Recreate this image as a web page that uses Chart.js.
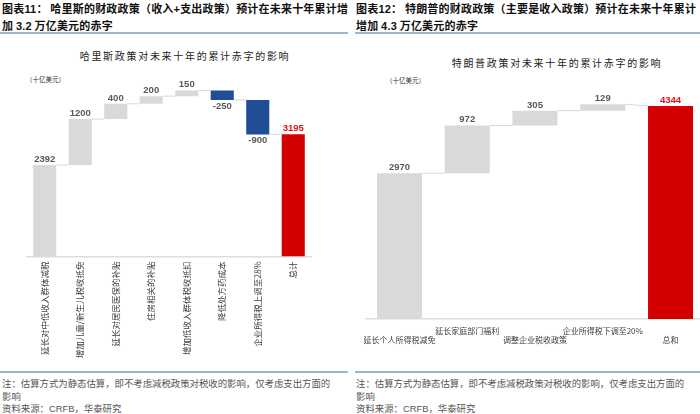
<!DOCTYPE html>
<html><head><meta charset="utf-8">
<script src="https://cdn.jsdelivr.net/npm/chart.js@4.4.1/dist/chart.umd.min.js"></script>
<style>
html,body{margin:0;padding:0;width:700px;height:414px;overflow:hidden;background:#fff;}
body{position:relative;font-family:"Noto Sans CJK SC",sans-serif;}
.hdr{position:absolute;top:1px;font-size:11px;font-weight:bold;line-height:15.5px;color:#111;white-space:nowrap;letter-spacing:0.2px;}
.num{font-family:"Liberation Sans",Arial,sans-serif;font-weight:bold;}
.rule{position:absolute;height:1.5px;background:#9fb4d3;}
.ctitle{position:absolute;top:50px;font-size:10px;line-height:12px;letter-spacing:1.7px;color:#222;white-space:nowrap;transform:translateX(-50%);}
.unit{position:absolute;font-size:6.5px;line-height:8px;color:#333;white-space:nowrap;}
.note{position:absolute;top:377px;font-size:9.4px;line-height:12.5px;color:#555;white-space:nowrap;}
.note .num{font-weight:normal;}
canvas{position:absolute;top:60px;}
</style></head>
<body>
<div class="hdr" style="left:2px;">图表<span class="num">11</span>：&nbsp;哈里斯的财政政策（收入<span class="num">+</span>支出政策）预计在未来十年累计增<br>加 <span class="num">3.2</span> 万亿美元的赤字</div>
<div class="hdr" style="left:356px;">图表<span class="num">12</span>：&nbsp;特朗普的财政政策（主要是收入政策）预计在未来十年累计<br>增加 <span class="num">4.3</span> 万亿美元的赤字</div>
<div class="rule" style="left:0;top:32px;width:348px;"></div>
<div class="rule" style="left:355px;top:32px;width:345px;"></div>

<div class="ctitle" style="left:185px;top:50px;">哈里斯政策对未来十年的累计赤字的影响</div>
<div class="ctitle" style="left:557px;top:56.5px;">特朗普政策对未来十年的累计赤字的影响</div>
<div class="unit" style="left:26px;top:75px;">（十亿美元）</div>
<div class="unit" style="left:386px;top:76px;">（十亿美元）</div>

<canvas id="harris" width="350" height="312" style="left:0;width:350px;height:312px;"></canvas>
<canvas id="trump" width="355" height="312" style="left:355px;width:355px;height:312px;"></canvas>

<div class="rule" style="left:0;top:371px;width:348px;"></div>
<div class="rule" style="left:355px;top:371px;width:345px;"></div>
<div class="note" style="left:2px;">注：估算方式为静态估算，即不考虑减税政策对税收的影响，仅考虑支出方面的<br>影响<br>资料来源：<span class="num">CRFB</span>，华泰研究</div>
<div class="note" style="left:356px;">注：估算方式为静态估算，即不考虑减税政策对税收的影响，仅考虑支出方面的<br>影响<br>资料来源：<span class="num">CRFB</span>，华泰研究</div>

<script>
// ---- data ----
const harrisCategories = ['延长对中低收入群体减税','增加儿童/新生儿税收抵免','延长对居民医保的补贴','住房相关的补贴','增加低收入群体税收抵扣','降低处方药成本','企业所得税上调至28%','总计'];
const harrisValues = [2392, 1200, 400, 200, 150, -250, -900];
const harrisTotal = 3195;

const trumpCategories = ['延长个人所得税减免','延长家庭部门福利','调整企业税收政策','企业所得税下调至20%','总和'];
const trumpValues = [2970, 972, 305, 129];
const trumpTotal = 4344;

const yMin = 0;
const yMax = 5000;

// ---- styles ----
const COLORS = {up:'#D9D9D9', down:'#1F4E96', total:'#D40000'};
const LABEL_COLORS = {up:'#595959', down:'#595959', total:'#E8101A'};

function buildWaterfall(values, total){
  const bars = [], starts = [], kinds = [], labels = [];
  let cum = 0;
  values.forEach(v => {
    bars.push([cum, cum + v]);
    starts.push(cum);
    kinds.push(v >= 0 ? 'up' : 'down');
    labels.push(String(v));
    cum += v;
  });
  bars.push([0, total]);
  starts.push(total);
  kinds.push('total');
  labels.push(String(total));
  return {bars, starts, kinds, labels};
}

function makeWaterfallPlugin(wf, fontSize){
  return {
    id: 'waterfall',
    beforeDatasetsDraw(chart){
      const ctx = chart.ctx, meta = chart.getDatasetMeta(0), ys = chart.scales.y;
      ctx.save();
      ctx.strokeStyle = '#D9D9D9';
      ctx.lineWidth = 1;
      for (let i = 0; i < meta.data.length - 1; i++){
        const a = meta.data[i], b = meta.data[i + 1];
        const x1 = a.x + a.width / 2, x2 = b.x - b.width / 2;
        const y1 = ys.getPixelForValue(wf.bars[i][1]);
        const y2 = ys.getPixelForValue(wf.starts[i + 1]);
        ctx.beginPath();
        ctx.moveTo(x1, y1);
        ctx.lineTo(x2, y2);
        ctx.stroke();
      }
      ctx.restore();
    },
    afterDatasetsDraw(chart){
      const ctx = chart.ctx, meta = chart.getDatasetMeta(0);
      ctx.save();
      ctx.font = 'bold ' + fontSize + 'px "Liberation Sans", Arial, sans-serif';
      ctx.textAlign = 'center';
      meta.data.forEach((el, i) => {
        const top = Math.min(el.y, el.base), bot = Math.max(el.y, el.base);
        ctx.fillStyle = LABEL_COLORS[wf.kinds[i]];
        if (wf.kinds[i] === 'down'){
          ctx.textBaseline = 'top';
          ctx.fillText(wf.labels[i], el.x, bot + 1.5);
        } else {
          ctx.textBaseline = 'bottom';
          ctx.fillText(wf.labels[i], el.x, top - 1);
        }
      });
      ctx.restore();
    }
  };
}

function makeChart(id, cats, wf, opt){
  return new Chart(document.getElementById(id), {
    type: 'bar',
    data: {
      labels: cats,
      datasets: [{
        data: wf.bars,
        backgroundColor: wf.kinds.map(k => COLORS[k]),
        borderWidth: 0,
        borderSkipped: false,
        barPercentage: opt.barPct,
        categoryPercentage: 1
      }]
    },
    options: {
      responsive: false,
      animation: false,
      layout: {padding: opt.padding},
      plugins: {legend: {display: false}, tooltip: {enabled: false}, title: {display: false}},
      scales: {
        x: {
          grid: {display: false, drawTicks: false},
          border: {display: true, color: '#DEDEDE', width: 1.5},
          ticks: {
            autoSkip: false,
            maxRotation: opt.rot,
            minRotation: opt.rot,
            padding: opt.tickPad,
            color: '#404040',
            font: {family: '"Noto Sans CJK SC", sans-serif', size: opt.tickSize, lineHeight: 1.2},
            callback: opt.tickCb
          },
          afterFit(s){ s.height = opt.axisH; }
        },
        y: {display: false, min: yMin, max: yMax}
      }
    },
    plugins: [makeWaterfallPlugin(wf, opt.labelSize)]
  });
}

const harrisWF = buildWaterfall(harrisValues, harrisTotal);
const trumpWF = buildWaterfall(trumpValues, trumpTotal);

makeChart('harris', harrisCategories, harrisWF, {
  barPct: 0.65,
  padding: {left: 27, right: 39, top: 5.25, bottom: 0},
  rot: 90, tickPad: 5, tickSize: 8.5, axisH: 115.5, labelSize: 9.5,
  tickCb: (v, i) => harrisCategories[i]
});

makeChart('trump', trumpCategories, trumpWF, {
  barPct: 0.664,
  padding: {left: 10.6, right: 5.6, top: 13.7, bottom: 0},
  rot: 0, tickPad: 7, tickSize: 8, axisH: 53, labelSize: 9.5,
  tickCb: (v, i) => (i % 2 ? [trumpCategories[i], ''] : ['', trumpCategories[i]])
});
</script>
</body></html>
